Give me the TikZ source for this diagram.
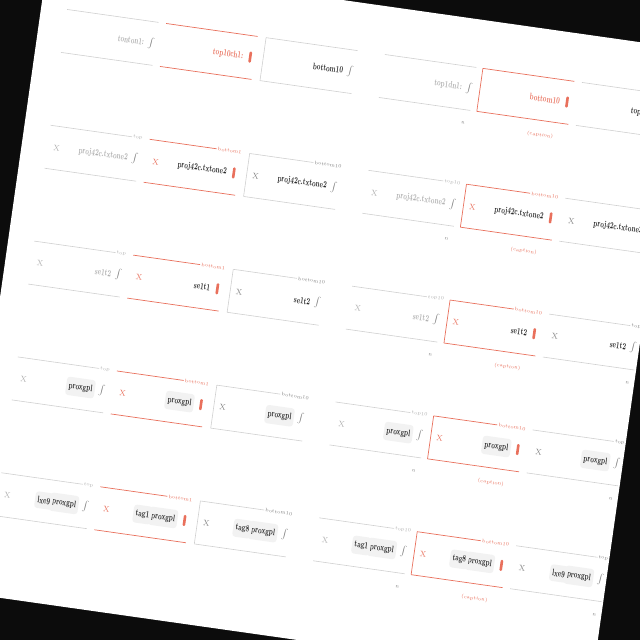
\documentclass[tikz,border=0pt]{standalone}
\definecolor{pagebg}{RGB}{12,12,12}
\definecolor{errred}{RGB}{233,112,92}
\definecolor{lineg}{RGB}{208,208,208}
\definecolor{txtdark}{RGB}{35,35,35}
\definecolor{txtmid}{RGB}{130,130,130}
\definecolor{txtlight}{RGB}{175,175,175}
\definecolor{chipbg}{RGB}{242,242,242}
\newcommand\cnd[1]{\scalebox{0.72}[1.1]{#1}}
\newcommand\fld[9]{%
  \node[fieldbox] (#1) at (#2,#3) {};
  \if\relax\detokenize{#8}\relax
    \draw[#4] (#1.north west) -- (#1.north east);
  \else
    \node[lbl, text=#7, anchor=east] (#1l) at ({#2+94},{#3}) {#8};
    \draw[#4] (#1.north west) -- (#1l.west);
  \fi
  \draw[#4] (#1.south west) -- (#1.south east);
  \draw[#5] (#1.north west) -- (#1.south west);
  \if\relax\detokenize{#6}\relax\else
    \node[xm, text=#6] (#1x) at ({#2+9},{#3+21.5}) {X};
  \fi
  \node[val] (#1v) at ({#2+81},{#3+21.5}) {#9};
}
\newcommand\gic[3]{\node[gicon] (#1i) at ({#2+88},{#3+21.5}) {$\int$};}
\newcommand\ric[3]{\node[ricon] (#1i) at ({#2+88},{#3+21.5}) {};}
\newcommand\hint[3]{\node[captxt, text=txtmid] (#1h) at ({#2+87},{#3+57}) {n};}
\newcommand\capt[3]{\node[captxt, text=errred] (#1c) at ({#2+66},{#3+58}) {(caption)};}
\newcommand\onechip[3]{\node[chip, anchor=east] (#1p) at ({#2+81},{#3+21.5}) {\cnd{proxgpl}};}
\newcommand\twochip[4]{\node[chip, anchor=east] (#1p) at ({#2+81},{#3+21.5}) {\cnd{proxgpl}};
  \node[chip, anchor=east] (#1q) at ({#2+55},{#3+21.5}) {\cnd{#4}};}
\begin{document}
\begin{tikzpicture}[x=1pt,y=-1pt,
 every node/.style={transform shape},
 fieldbox/.style={draw=none, minimum width=92pt, minimum height=43pt, inner sep=0pt, anchor=north west},
 lbl/.style={font=\fontsize{4.8}{5}\selectfont, inner sep=1pt},
 xm/.style={font=\fontsize{8}{9}\selectfont, inner sep=0pt},
 val/.style={font=\fontsize{8.5}{9}\selectfont\bfseries, inner sep=0pt, anchor=east},
 chip/.style={fill=chipbg, rounded corners=3pt, inner xsep=2.5pt, inner ysep=5pt, font=\fontsize{8.5}{9}\selectfont\bfseries, text=txtdark},
 gicon/.style={text=txtmid, font=\fontsize{10}{10}\selectfont, inner sep=0pt},
 ricon/.style={fill=errred, minimum width=2.6pt, minimum height=11pt, inner sep=0pt, rounded corners=1pt},
 captxt/.style={font=\fontsize{4.8}{5}\selectfont, inner sep=0pt},
 gl/.style={draw=lineg, line width=0.6pt},
 rl/.style={draw=errred, line width=0.7pt},
 nl/.style={draw=none},
]
\useasboundingbox (0,0) rectangle (640,640);
\fill[pagebg] (0,0) rectangle (640,640);
\begin{scope}
\clip (0,0) rectangle (640,640);
\begin{scope}[rotate around={-8.07:(320,320)}]
\fill[white] (0,0) rectangle (640,640);
% ---- row 1
\fld{a1}{26}{48}{gl}{nl}{}{}{}{\textcolor{txtlight}{\cnd{tonton1:}}}\gic{a1}{26}{48}
\fld{b1}{126}{48}{rl}{nl}{}{}{}{\textcolor{errred}{\cnd{top10ch1:}}}\ric{b1}{126}{48}
\fld{c1}{227}{48}{gl}{gl}{}{}{}{\textcolor{txtdark}{\cnd{bottom10}}}\gic{c1}{227}{48}
\fld{d1}{347}{48}{gl}{nl}{}{}{}{\textcolor{txtlight}{\cnd{top1dn1:}}}\gic{d1}{347}{48}\hint{d1}{347}{48}
\fld{e1}{446}{48}{rl}{rl}{}{}{}{\textcolor{errred}{\cnd{bottom10}}}\ric{e1}{446}{48}\capt{e1}{446}{48}
\fld{f1}{546}{48}{gl}{nl}{}{}{}{\textcolor{txtdark}{\cnd{top10ch1}}}\gic{f1}{546}{48}\hint{f1}{546}{48}
% ---- row 2
\fld{a2}{26}{165}{gl}{nl}{txtlight}{txtlight}{top~}{\textcolor{txtlight}{\cnd{proj42c.txtone2}}}\gic{a2}{26}{165}
\fld{b2}{126}{165}{rl}{nl}{errred}{errred}{bottom1~}{\textcolor{txtdark}{\cnd{proj42c.txtone2}}}\ric{b2}{126}{165}
\fld{c2}{227}{165}{gl}{gl}{txtmid}{txtmid}{bottom10~}{\textcolor{txtdark}{\cnd{proj42c.txtone2}}}\gic{c2}{227}{165}
\fld{d2}{347}{165}{gl}{nl}{txtlight}{txtlight}{top10}{\textcolor{txtlight}{\cnd{proj42c.txtone2}}}\gic{d2}{347}{165}\hint{d2}{347}{165}
\fld{e2}{446}{165}{rl}{rl}{errred}{errred}{bottom10~}{\textcolor{txtdark}{\cnd{proj42c.txtone2}}}\ric{e2}{446}{165}\capt{e2}{446}{165}
\fld{f2}{546}{165}{gl}{nl}{txtmid}{txtmid}{top~}{\textcolor{txtdark}{\cnd{proj42c.txtone2}}}\gic{f2}{546}{165}\hint{f2}{546}{165}
% ---- row 3
\fld{a3}{26}{282}{gl}{nl}{txtlight}{txtlight}{top~}{\textcolor{txtlight}{\cnd{se1t2}}}\gic{a3}{26}{282}
\fld{b3}{126}{282}{rl}{nl}{errred}{errred}{bottom1~}{\textcolor{txtdark}{\cnd{se1t1}}}\ric{b3}{126}{282}
\fld{c3}{227}{282}{gl}{gl}{txtmid}{txtmid}{bottom10~}{\textcolor{txtdark}{\cnd{se1t2}}}\gic{c3}{227}{282}
\fld{d3}{347}{282}{gl}{nl}{txtlight}{txtlight}{top10}{\textcolor{txtlight}{\cnd{se1t2}}}\gic{d3}{347}{282}\hint{d3}{347}{282}
\fld{e3}{446}{282}{rl}{rl}{errred}{errred}{bottom10~}{\textcolor{txtdark}{\cnd{se1t2}}}\ric{e3}{446}{282}\capt{e3}{446}{282}
\fld{f3}{546}{282}{gl}{nl}{txtmid}{txtmid}{top~}{\textcolor{txtdark}{\cnd{se1t2}}}\gic{f3}{546}{282}\hint{f3}{546}{282}
% ---- row 4
\fld{a4}{26}{399}{gl}{nl}{txtlight}{txtlight}{top~}{}\onechip{a4}{26}{399}\gic{a4}{26}{399}
\fld{b4}{126}{399}{rl}{nl}{errred}{errred}{bottom1~}{}\onechip{b4}{126}{399}\ric{b4}{126}{399}
\fld{c4}{227}{399}{gl}{gl}{txtmid}{txtmid}{bottom10~}{}\onechip{c4}{227}{399}\gic{c4}{227}{399}
\fld{d4}{347}{399}{gl}{nl}{txtlight}{txtlight}{top10}{}\onechip{d4}{347}{399}\gic{d4}{347}{399}\hint{d4}{347}{399}
\fld{e4}{446}{399}{rl}{rl}{errred}{errred}{bottom10~}{}\onechip{e4}{446}{399}\ric{e4}{446}{399}\capt{e4}{446}{399}
\fld{f4}{546}{399}{gl}{nl}{txtmid}{txtmid}{top~}{}\onechip{f4}{546}{399}\gic{f4}{546}{399}\hint{f4}{546}{399}
% ---- row 5
\fld{a5}{26}{516}{gl}{nl}{txtlight}{txtlight}{top~}{}\twochip{a5}{26}{516}{lxe9}\gic{a5}{26}{516}
\fld{b5}{126}{516}{rl}{nl}{errred}{errred}{bottom1~}{}\twochip{b5}{126}{516}{tag1}\ric{b5}{126}{516}
\fld{c5}{227}{516}{gl}{gl}{txtmid}{txtmid}{bottom10~}{}\twochip{c5}{227}{516}{tag8}\gic{c5}{227}{516}
\fld{d5}{347}{516}{gl}{nl}{txtlight}{txtlight}{top10}{}\twochip{d5}{347}{516}{tag1}\gic{d5}{347}{516}\hint{d5}{347}{516}
\fld{e5}{446}{516}{rl}{rl}{errred}{errred}{bottom10~}{}\twochip{e5}{446}{516}{tag8}\ric{e5}{446}{516}\capt{e5}{446}{516}
\fld{f5}{546}{516}{gl}{nl}{txtmid}{txtmid}{top~}{}\twochip{f5}{546}{516}{lxe9}\gic{f5}{546}{516}\hint{f5}{546}{516}
\end{scope}
\end{scope}
\end{tikzpicture}
\end{document}
